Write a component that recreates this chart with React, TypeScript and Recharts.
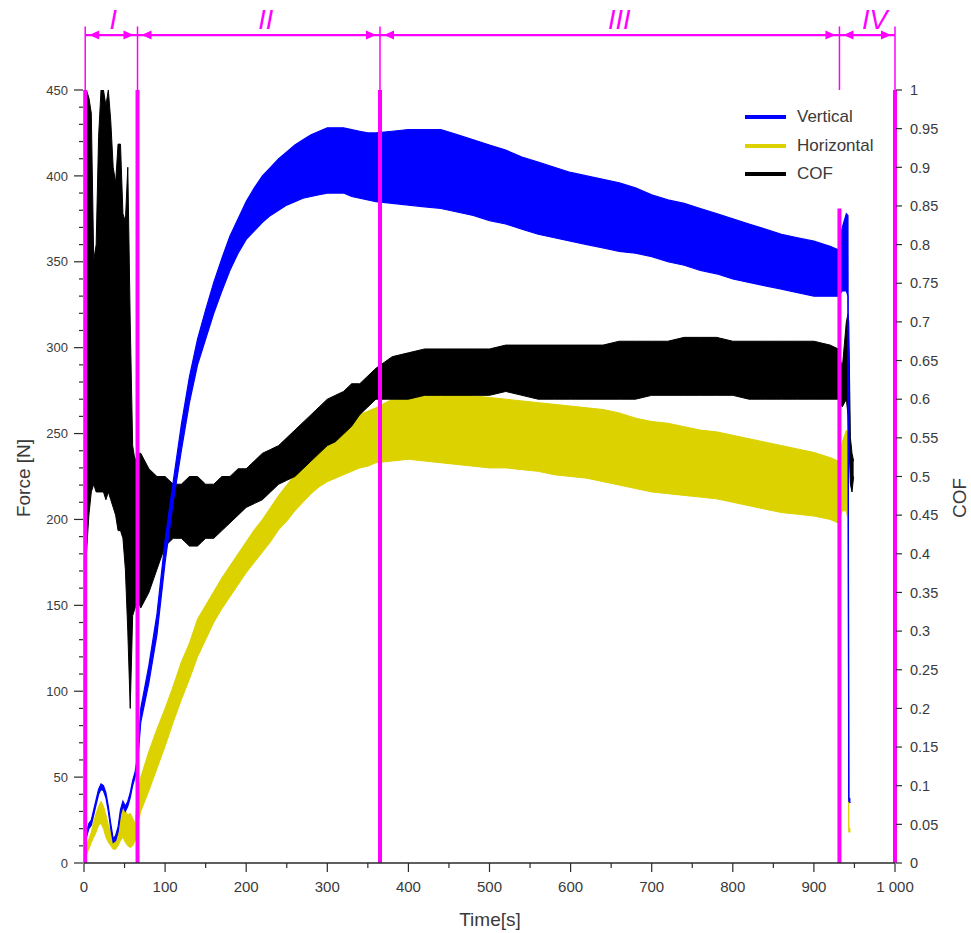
import { ComposedChart, Area, XAxis, YAxis, ReferenceLine, ReferenceDot, Legend } from 'recharts';

const FONT = '"Liberation Sans", Arial, sans-serif';
const BLUE = '#0000ff';
const YELLOW = '#dcd200';
const BLACK = '#000000';
const MAGENTA = '#ff00ff';
const AXIS = '#2a2a2a';
const TEXT = '#3a3a3a';

// time [s] — region I every 3 s, II every 10 s, III every 20 s, then the unloading
const TIME = [
  0, 3, 6, 9, 12, 15, 18, 21, 24, 27, 30, 33, 36, 39, 42, 45, 48, 51, 54, 57, 60, 63, 66,
  70, 80, 90, 100, 110, 120, 130, 140, 150, 160, 170, 180, 190, 200, 210, 220, 230, 240, 250, 260,
  270, 280, 290, 300, 310, 320, 330, 340, 350, 360,
  380, 400, 420, 440, 460, 480, 500, 520, 540, 560, 580, 600, 620, 640, 660, 680, 700, 720, 740, 760,
  780, 800, 820, 840, 860, 880, 900, 920, 930,
  935, 940, 942, 943, 945, 947, 949,
];

// Vertical force [N], lower / upper edge of the oscillation band
const VERT_LO = [
  8, 15, 20, 22, 28, 34, 40, 43, 42, 38, 30, 20, 12, 13, 18, 28, 33, 30, 33, 38, 45, 50, 58,
  82, 105, 133, 175, 210, 240, 268, 290, 305, 320, 333, 345, 355, 363, 368, 373, 377, 380, 383, 385,
  387, 388, 389, 390, 390, 390, 388, 387, 386, 385,
  384, 383, 382, 381, 379, 377, 374, 372, 369, 366, 364, 362, 360, 358, 356, 355, 353, 350, 348, 345,
  343, 340, 338, 336, 334, 332, 330, 330, 330,
  333, 333, 330, 36, 35, null, null,
];
const VERT_HI = [
  11, 18, 23, 25, 31, 37, 43, 46, 45, 41, 33, 23, 14, 16, 21, 31, 36, 33, 36, 41, 48, 53, 62,
  90, 115, 145, 188, 222, 255, 283, 305, 322, 338, 352, 365, 375, 385, 393, 400, 405, 410, 414, 418,
  421, 424, 426, 428, 428, 428, 427, 426, 425, 425,
  426, 427, 427, 427, 424, 421, 418, 415, 411, 408, 405, 402, 400, 398, 396, 393, 389, 386, 384, 381,
  378, 375, 372, 369, 366, 364, 362, 359, 357,
  370, 378, 377, 38, 37, null, null,
];

// Horizontal force [N]
const HORZ_LO = [
  3, 5, 8, 12, 15, 18, 22, 23, 20, 15, 12, 10, 8, 8, 10, 13, 15, 12, 10, 9, 10, 13, 22,
  30, 42, 55, 68, 82, 95, 107, 120, 130, 140, 148, 155, 162, 169, 175, 181, 187, 194, 199, 205,
  210, 215, 219, 222, 224, 226, 228, 230, 231, 233,
  234, 235, 234, 233, 232, 231, 230, 230, 229, 228, 226, 225, 224, 222, 220, 218, 216, 215, 214, 213,
  212, 210, 208, 206, 204, 203, 202, 200, 198,
  205, 205, 200, 18, 18, null, null,
];
const HORZ_HI = [
  6, 10, 14, 18, 24, 29, 33, 36, 33, 28, 22, 18, 14, 14, 20, 30, 33, 30, 28, 29, 26, 23, 38,
  50, 65, 78, 90, 103, 117, 128, 142, 150, 158, 166, 173, 180, 187, 194, 200, 207, 214, 220, 226,
  232, 238, 243, 248, 252, 255, 258, 261, 263, 265,
  270, 273, 274, 274, 273, 272, 271, 270, 269, 268, 267, 266, 265, 264, 262, 259, 257, 256, 254, 252,
  251, 249, 247, 245, 243, 241, 239, 236, 234,
  245, 252, 250, 20, 20, null, null,
];

// coefficient of friction
const COF_LO = [
  0.47, 0.4, 0.45, 0.48, 0.49, 0.48, 0.48, 0.48, 0.48, 0.47, 0.48, 0.47, 0.46, 0.45, 0.43, 0.43, 0.42, 0.38, 0.3, 0.2, 0.32, 0.33, 0.34,
  0.33, 0.35, 0.38, 0.41, 0.42, 0.42, 0.41, 0.41, 0.42, 0.42, 0.43, 0.44, 0.45, 0.46, 0.465, 0.47, 0.48, 0.49, 0.495, 0.5,
  0.51, 0.52, 0.53, 0.54, 0.545, 0.555, 0.565, 0.58, 0.59, 0.6,
  0.6, 0.6, 0.605, 0.605, 0.605, 0.605, 0.605, 0.61, 0.605, 0.6, 0.6, 0.6, 0.6, 0.6, 0.6, 0.6, 0.605, 0.605, 0.605, 0.605,
  0.605, 0.605, 0.6, 0.6, 0.6, 0.6, 0.6, 0.6, 0.6,
  0.59, 0.6, 0.58, 0.55, 0.49, 0.48, 0.5,
];
const COF_HI = [
  1.0, 1.0, 0.99, 0.97, 0.78, 0.8, 0.94, 1.0, 1.0, 0.98, 1.0, 0.96, 0.9, 0.88, 0.93, 0.93, 0.84, 0.83, 0.9, 0.7, 0.54, 0.52, 0.53,
  0.53, 0.51, 0.5, 0.5, 0.49, 0.49, 0.5, 0.5, 0.49, 0.49, 0.5, 0.5, 0.51, 0.51, 0.52, 0.53, 0.535, 0.54, 0.55, 0.56,
  0.57, 0.58, 0.59, 0.6, 0.605, 0.61, 0.62, 0.62, 0.63, 0.64,
  0.655, 0.66, 0.665, 0.665, 0.665, 0.665, 0.665, 0.67, 0.67, 0.67, 0.67, 0.67, 0.67, 0.67, 0.675, 0.675, 0.675, 0.675, 0.68, 0.68,
  0.68, 0.675, 0.675, 0.675, 0.675, 0.675, 0.675, 0.67, 0.665,
  0.64, 0.7, 0.71, 0.7, 0.55, 0.53, 0.52,
];

// axis ticks
const TIME_MAJOR = [0, 100, 200, 300, 400, 500, 600, 700, 800, 900, 1000];
const FORCE_MAJOR = [0, 50, 100, 150, 200, 250, 300, 350, 400, 450];
const COF_TICKS = [0, 0.05, 0.1, 0.15, 0.2, 0.25, 0.3, 0.35, 0.4, 0.45, 0.5, 0.55, 0.6, 0.65, 0.7, 0.75, 0.8, 0.85, 0.9, 0.95, 1];

// stage boundaries and labels
const STAGE_BOUNDS = [1.5, 66, 365, 931.5, 1000];
const STAGE_NAMES = ['I', 'II', 'III', 'IV'];
const STAGE_LABEL_T = [36, 224, 660, 975];
const END_LINE_TOP = 381;

const LEGEND_ITEMS = [
  { name: 'Vertical', color: BLUE },
  { name: 'Horizontal', color: YELLOW },
  { name: 'COF', color: BLACK },
];

const timeTicks: number[] = [];
TIME_MAJOR.forEach((v, i) => {
  timeTicks.push(v);
  if (i < TIME_MAJOR.length - 1) timeTicks.push(v + 50);
});
const forceTicks: number[] = [];
FORCE_MAJOR.forEach((v, i) => {
  forceTicks.push(v);
  if (i < FORCE_MAJOR.length - 1) for (let k = 10; k < 50; k += 10) forceTicks.push(v + k);
});

const range = (lo: number | null, hi: number | null) => (lo == null || hi == null ? null : [lo, hi]);

const data = TIME.map((t, i) => ({
  t,
  vertical: range(VERT_LO[i], VERT_HI[i]),
  horizontal: range(HORZ_LO[i], HORZ_HI[i]),
  cof: range(COF_LO[i], COF_HI[i]),
}));

function ForceTick({ x, y, payload }: any) {
  const major = FORCE_MAJOR.includes(payload.value);
  return (
    <g>
      <line x1={x - 1} x2={x - (major ? 10 : 5)} y1={y} y2={y} stroke={AXIS} strokeWidth={1.2} />
      {major && (
        <text x={x - 16} y={y} dy="0.36em" textAnchor="end" fontSize={13} fill={TEXT} fontFamily={FONT}>
          {payload.value}
        </text>
      )}
    </g>
  );
}

function CofTick({ x, y, payload }: any) {
  return (
    <g>
      <line x1={x + 1} x2={x + 7} y1={y} y2={y} stroke={AXIS} strokeWidth={1.2} />
      <text x={x + 15} y={y} dy="0.36em" textAnchor="start" fontSize={14.5} fill={TEXT} fontFamily={FONT}>
        {String(Number(payload.value.toFixed(2)))}
      </text>
    </g>
  );
}

function TimeTick({ x, y, payload }: any) {
  const major = TIME_MAJOR.includes(payload.value);
  const label = payload.value === 1000 ? '1 000' : String(payload.value);
  return (
    <g>
      <line x1={x} x2={x} y1={y} y2={y + (major ? 9 : 5)} stroke={AXIS} strokeWidth={1.2} />
      {major && (
        <text x={x} y={y + 29} textAnchor="middle" fontSize={15} fill={TEXT} fontFamily={FONT}>
          {label}
        </text>
      )}
    </g>
  );
}

function ArrowShape(props: any) {
  const { x1, x2, y1 } = props;
  const l = Math.min(x1, x2);
  const r = Math.max(x1, x2);
  return (
    <g>
      <line x1={l} y1={y1} x2={r} y2={y1} stroke={MAGENTA} strokeWidth={2.2} />
      <path d={`M${l + 4},${y1} l10,-4.5 v9 z`} fill={MAGENTA} />
      <path d={`M${r - 4},${y1} l-10,-4.5 v9 z`} fill={MAGENTA} />
    </g>
  );
}

function LegendBox() {
  return (
    <div style={{ fontFamily: FONT, fontSize: 17, color: TEXT }}>
      {LEGEND_ITEMS.map((item) => (
        <div key={item.name} style={{ display: 'flex', alignItems: 'center', height: 28.5 }}>
          <div style={{ width: 41, height: 4, background: item.color, marginRight: 11 }} />
          <span>{item.name}</span>
        </div>
      ))}
    </div>
  );
}

export default function App() {
  return (
    <div style={{ width: 971, height: 933, background: '#fff' }}>
      <style>{'body{margin:0}'}</style>
      <ComposedChart
        width={971}
        height={933}
        data={data}
        margin={{ top: 90, right: 16, bottom: 30, left: 30 }}
        style={{ fontFamily: FONT }}
      >
        <XAxis
          dataKey="t"
          type="number"
          domain={[0, 1000]}
          ticks={timeTicks}
          interval={0}
          tickSize={0}
          tickMargin={0}
          tick={<TimeTick />}
          tickLine={false}
          axisLine={{ stroke: AXIS, strokeWidth: 1.5 }}
          height={40}
          allowDataOverflow
          label={() => (
            <text x={490} y={926} textAnchor="middle" fontSize={19} fill={TEXT} fontFamily={FONT}>
              Time[s]
            </text>
          )}
        />
        <YAxis
          yAxisId="left"
          type="number"
          domain={[0, 450]}
          ticks={forceTicks}
          interval={0}
          tickSize={0}
          tickMargin={0}
          tick={<ForceTick />}
          tickLine={false}
          axisLine={false}
          width={54}
          allowDataOverflow
          label={() => (
            <text x={30} y={478} transform="rotate(-90 30 478)" textAnchor="middle" fontSize={19} fill={TEXT} fontFamily={FONT}>
              Force [N]
            </text>
          )}
        />
        <YAxis
          yAxisId="right"
          orientation="right"
          type="number"
          domain={[0, 1]}
          ticks={COF_TICKS}
          interval={0}
          tickSize={0}
          tickMargin={0}
          tick={<CofTick />}
          tickLine={false}
          axisLine={false}
          width={60}
          allowDataOverflow
          label={() => (
            <text x={966} y={498} transform="rotate(-90 966 498)" textAnchor="middle" fontSize={19} fill={TEXT} fontFamily={FONT}>
              COF
            </text>
          )}
        />

        <Area yAxisId="left" type="linear" dataKey="horizontal" stroke={YELLOW} strokeWidth={1} fill={YELLOW} fillOpacity={1} dot={false} activeDot={false} isAnimationActive={false} />
        <Area yAxisId="right" type="linear" dataKey="cof" stroke={BLACK} strokeWidth={1} fill={BLACK} fillOpacity={1} dot={false} activeDot={false} isAnimationActive={false} />
        <Area yAxisId="left" type="linear" dataKey="vertical" stroke={BLUE} strokeWidth={1.2} fill={BLUE} fillOpacity={1} dot={false} activeDot={false} isAnimationActive={false} />

        {/* stage boundaries inside the plot */}
        {STAGE_BOUNDS.map((b, i) => (
          <ReferenceLine
            key={`thick-${i}`}
            yAxisId="left"
            segment={[{ x: b, y: 0 }, { x: b, y: i === 3 ? END_LINE_TOP : 450 }]}
            stroke={MAGENTA}
            strokeWidth={4}
            ifOverflow="visible"
          />
        ))}
        {/* thin boundary ticks above the plot */}
        {STAGE_BOUNDS.map((b, i) => (
          <ReferenceLine
            key={`thin-${i}`}
            yAxisId="left"
            segment={[{ x: b, y: 450 }, { x: b, y: 487 }]}
            stroke={MAGENTA}
            strokeWidth={1.5}
            ifOverflow="visible"
          />
        ))}
        {/* double arrows spanning each stage */}
        {STAGE_NAMES.map((_, i) => (
          <ReferenceLine
            key={`arrow-${i}`}
            yAxisId="left"
            segment={[{ x: STAGE_BOUNDS[i], y: 482 }, { x: STAGE_BOUNDS[i + 1], y: 482 }]}
            ifOverflow="visible"
            shape={<ArrowShape />}
          />
        ))}
        {STAGE_NAMES.map((name, i) => (
          <ReferenceDot
            key={`name-${i}`}
            yAxisId="left"
            x={STAGE_LABEL_T[i]}
            y={485.5}
            r={0}
            ifOverflow="visible"
            shape={(p: any) => (
              <text x={p.cx} y={p.cy} textAnchor="middle" fontSize={27} fontStyle="italic" fill={MAGENTA} fontFamily={FONT}>
                {name}
              </text>
            )}
          />
        ))}

        <Legend
          layout="vertical"
          align="center"
          verticalAlign="middle"
          content={() => <LegendBox />}
          wrapperStyle={{ position: 'absolute', top: 103, left: 745, width: 200 }}
        />
      </ComposedChart>
    </div>
  );
}
